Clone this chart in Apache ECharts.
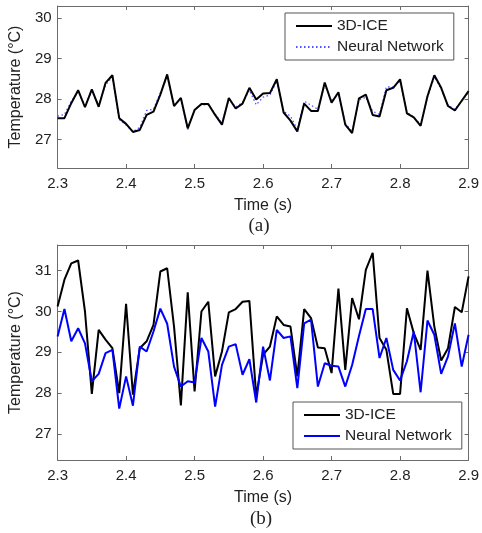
<!DOCTYPE html>
<html>
<head>
<meta charset="utf-8">
<script src="https://cdn.jsdelivr.net/npm/echarts@6/dist/echarts.min.js"></script>
<style>
  html, body { margin: 0; padding: 0; background: #fff; }
  #chart { width: 482px; height: 533px; }
</style>
</head>
<body>
<div id="chart"></div>
<script>
// time samples (s)
var times = [
  2.30, 2.31, 2.32, 2.33, 2.34, 2.35, 2.36, 2.37, 2.38, 2.39,
  2.40, 2.41, 2.42, 2.43, 2.44, 2.45, 2.46, 2.47, 2.48, 2.49,
  2.50, 2.51, 2.52, 2.53, 2.54, 2.55, 2.56, 2.57, 2.58, 2.59,
  2.60, 2.61, 2.62, 2.63, 2.64, 2.65, 2.66, 2.67, 2.68, 2.69,
  2.70, 2.71, 2.72, 2.73, 2.74, 2.75, 2.76, 2.77, 2.78, 2.79,
  2.80, 2.81, 2.82, 2.83, 2.84, 2.85, 2.86, 2.87, 2.88, 2.89,
  2.90
];

// (a) temperatures
var iceA = [
  27.53, 27.53, 27.90, 28.22, 27.80, 28.24, 27.81, 28.40, 28.59, 27.53,
  27.39, 27.19, 27.24, 27.61, 27.69, 28.11, 28.61, 27.83, 28.03, 27.28,
  27.73, 27.88, 27.88, 27.61, 27.37, 28.03, 27.77, 27.89, 28.28, 27.99,
  28.14, 28.15, 28.49, 27.67, 27.47, 27.20, 27.89, 27.71, 27.71, 28.41,
  27.91, 28.17, 27.37, 27.16, 28.02, 28.11, 27.61, 27.57, 28.22, 28.28,
  28.49, 27.65, 27.55, 27.34, 28.07, 28.59, 28.28, 27.83, 27.72, 27.96,
  28.20
];
var nnA = [
  27.58, 27.62, 27.95, 28.18, 27.84, 28.20, 27.85, 28.35, 28.55, 27.50,
  27.36, 27.20, 27.30, 27.72, 27.75, 28.15, 28.56, 27.86, 28.00, 27.25,
  27.75, 27.86, 27.86, 27.63, 27.40, 28.00, 27.80, 27.92, 28.22, 27.86,
  28.05, 28.10, 28.45, 27.70, 27.58, 27.25, 27.95, 27.85, 27.75, 28.36,
  27.95, 28.15, 27.40, 27.20, 27.98, 28.05, 27.70, 27.62, 28.30, 28.30,
  28.45, 27.68, 27.55, 27.38, 28.05, 28.55, 28.25, 27.85, 27.75, 27.95,
  28.18
];

// (b) temperatures
var iceB = [
  30.12, 30.78, 31.18, 31.25, 30.00, 27.98, 29.55, 29.31, 29.10, 28.00,
  30.19, 27.96, 29.10, 29.27, 29.67, 30.98, 31.06, 29.63, 27.70, 30.47,
  28.04, 30.00, 30.24, 28.41, 29.02, 29.98, 30.06, 30.24, 30.26, 27.92,
  28.94, 29.14, 29.88, 29.67, 29.63, 28.41, 30.06, 29.84, 29.12, 29.10,
  28.49, 30.56, 28.57, 30.33, 29.81, 31.02, 31.44, 29.35, 29.06, 27.98,
  27.98, 30.08, 29.47, 29.06, 31.00, 29.63, 28.80, 29.10, 30.11, 29.98,
  30.86
];
var nnB = [
  29.39, 30.06, 29.27, 29.59, 29.22, 28.29, 28.47, 28.98, 29.06, 27.62,
  28.41, 27.69, 29.14, 29.02, 29.51, 30.07, 29.70, 28.65, 28.16, 28.29,
  28.26, 29.35, 29.02, 27.67, 28.69, 29.14, 29.20, 28.45, 28.83, 27.77,
  29.14, 28.31, 29.55, 29.35, 29.39, 28.12, 29.71, 29.80, 28.16, 28.73,
  28.67, 28.65, 28.16, 28.69, 29.40, 30.06, 30.06, 28.86, 29.35, 28.57,
  28.31, 28.78, 29.51, 28.02, 29.78, 29.43, 28.47, 28.90, 29.71, 28.65,
  29.43
];

var yTicksA = [27, 28, 29, 30];
var yTicksB = [27, 28, 29, 30, 31];
var legendNames = { iceA: "3D-ICE", nnA: "Neural Network", iceB: "3D-ICE", nnB: "Neural Network" };

function pairs(vals) {
  return times.map(function (t, i) { return [t, vals[i]]; });
}

var font = "Liberation Sans, Arial, sans-serif";
var axisGray = "#6b6b6b";

function xAxisCfg(grid, pos, showLabel) {
  return {
    type: "value", gridIndex: grid, position: pos,
    min: 2.3, max: 2.9, interval: 0.1,
    axisLine: { show: true, lineStyle: { color: axisGray, width: 1 } },
    axisTick: { show: true, inside: true, length: 4, lineStyle: { color: axisGray } },
    axisLabel: {
      show: showLabel, color: "#222", fontSize: 15, fontFamily: font, margin: 8,
      formatter: function (v) { return v.toFixed(1); }
    },
    splitLine: { show: false },
    name: showLabel ? "Time (s)" : "",
    nameLocation: "middle", nameGap: 30,
    nameTextStyle: { color: "#222", fontSize: 16, fontFamily: font }
  };
}

function yAxisCfg(grid, pos, min, max, ticks, showLabel) {
  return {
    type: "value", gridIndex: grid, position: pos,
    min: min, max: max,
    axisLine: { show: true, lineStyle: { color: axisGray, width: 1 } },
    axisTick: { show: true, inside: true, length: 4, customValues: ticks, lineStyle: { color: axisGray } },
    axisLabel: { show: showLabel, customValues: ticks, color: "#222", fontSize: 15, fontFamily: font, margin: 6 },
    splitLine: { show: false },
    name: showLabel ? "Temperature (°C)" : "",
    nameLocation: "middle", nameRotate: 90, nameGap: 32,
    nameTextStyle: { color: "#222", fontSize: 16, fontFamily: font }
  };
}

function legendCfg(names, left, top) {
  return {
    data: names, orient: "vertical", left: left, top: top,
    backgroundColor: "#fff", borderColor: "#555", borderWidth: 1,
    padding: [5, 10, 5, 10], itemGap: 5, itemWidth: 36, itemHeight: 12,
    itemStyle: { opacity: 0 },
    textStyle: { fontSize: 15.5, fontFamily: font, color: "#222" },
    formatter: function (n) { return legendNames[n]; }
  };
}

var chart = echarts.init(document.getElementById("chart"));

var option = {
  animation: false,
  backgroundColor: "#fff",
  grid: [
    { left: 55, top: 6, width: 415, height: 162 },
    { left: 55, top: 245, width: 414, height: 215 }
  ],
  xAxis: [
    xAxisCfg(0, "bottom", true),
    xAxisCfg(0, "top", false),
    xAxisCfg(1, "bottom", true),
    xAxisCfg(1, "top", false)
  ],
  yAxis: [
    yAxisCfg(0, "left", 26.3, 30.3, yTicksA, true),
    yAxisCfg(0, "right", 26.3, 30.3, yTicksA, false),
    yAxisCfg(1, "left", 26.36, 31.63, yTicksB, true),
    yAxisCfg(1, "right", 26.36, 31.63, yTicksB, false)
  ],
  title: [
    { text: "(a)", left: 254, top: 212, textAlign: "center",
      textStyle: { fontFamily: "Liberation Serif, Times New Roman, serif", fontSize: 19, fontWeight: "normal", color: "#222" } },
    { text: "(b)", left: 256, top: 505, textAlign: "center",
      textStyle: { fontFamily: "Liberation Serif, Times New Roman, serif", fontSize: 19, fontWeight: "normal", color: "#222" } }
  ],
  legend: [
    legendCfg(["iceA", "nnA"], 285, 13),
    legendCfg(["iceB", "nnB"], 293, 402)
  ],
  series: [
    {
      name: "nnA", type: "line", xAxisIndex: 0, yAxisIndex: 0, symbol: "none", z: 2,
      lineStyle: { color: "#5050ff", width: 1.3, type: [1.5, 2.5] },
      itemStyle: { color: "#5050ff" },
      data: pairs(nnA)
    },
    {
      name: "iceA", type: "line", xAxisIndex: 0, yAxisIndex: 0, symbol: "none", z: 3,
      lineStyle: { color: "#000", width: 2 },
      itemStyle: { color: "#000" },
      data: pairs(iceA)
    },
    {
      name: "iceB", type: "line", xAxisIndex: 2, yAxisIndex: 2, symbol: "none", z: 2,
      lineStyle: { color: "#000", width: 2 },
      itemStyle: { color: "#000" },
      data: pairs(iceB)
    },
    {
      name: "nnB", type: "line", xAxisIndex: 2, yAxisIndex: 2, symbol: "none", z: 3,
      lineStyle: { color: "#0000ff", width: 2 },
      itemStyle: { color: "#0000ff" },
      data: pairs(nnB)
    }
  ]
};

chart.setOption(option);
</script>
</body>
</html>
